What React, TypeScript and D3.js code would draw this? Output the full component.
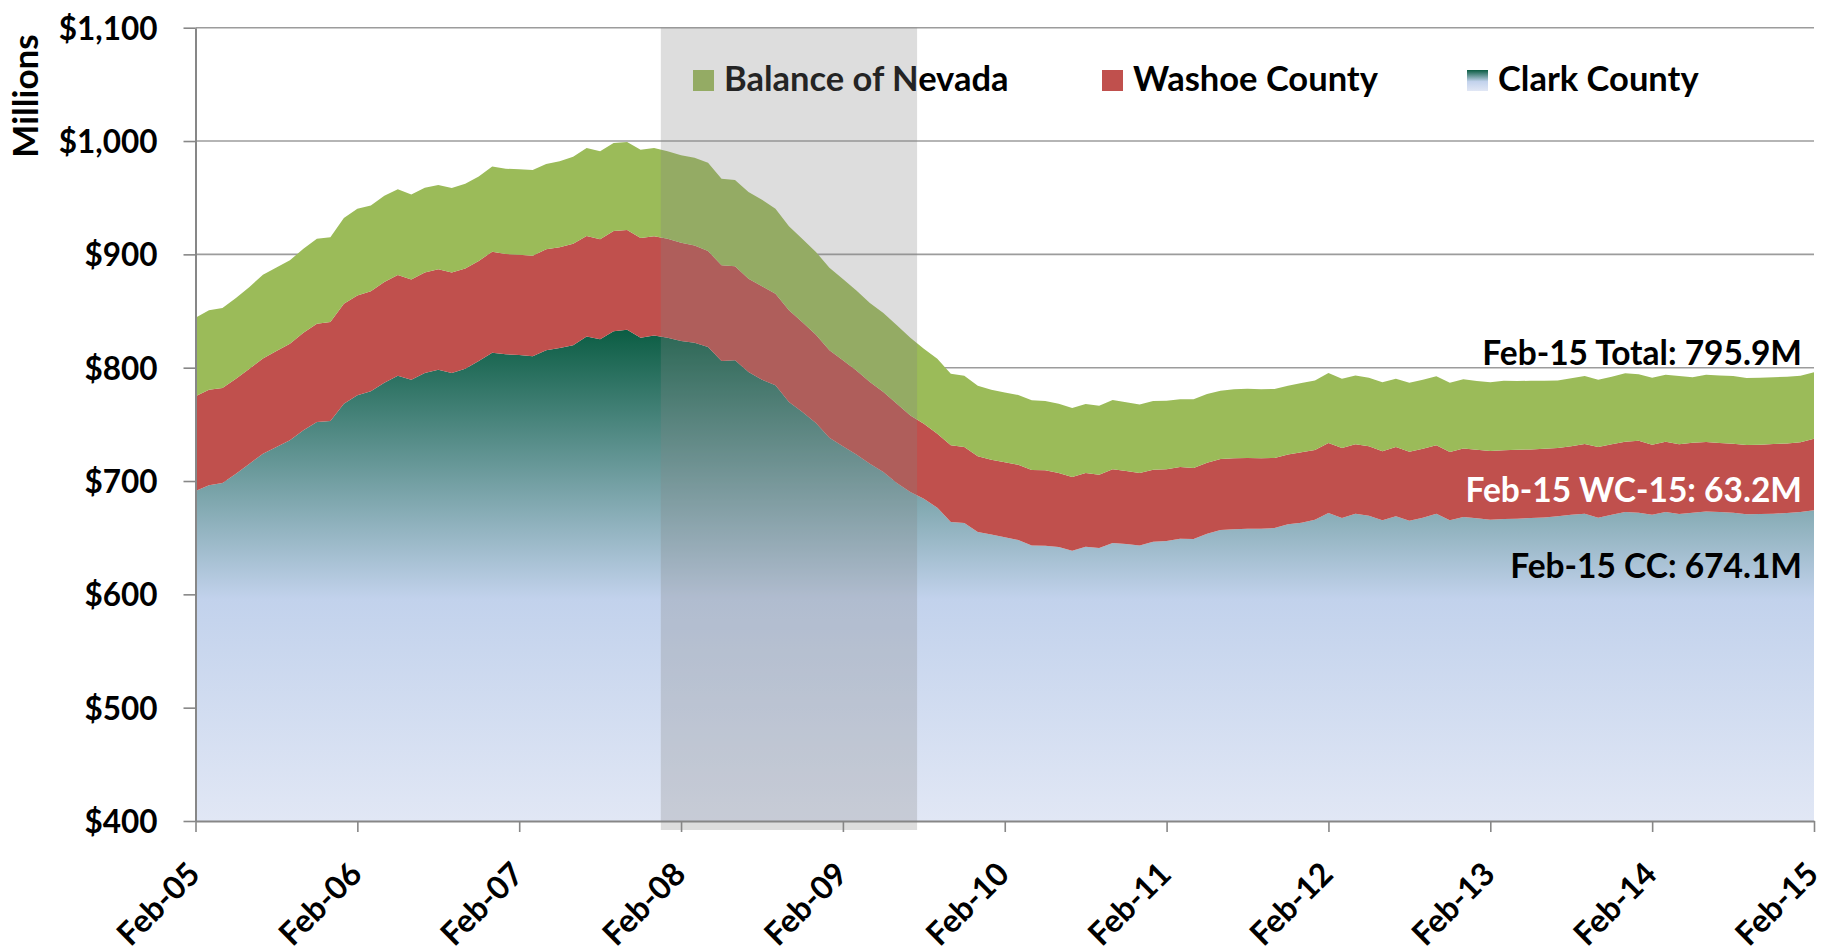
import React, { useRef, useEffect } from 'react';
import * as d3 from 'd3';

// Monthly values, Feb-05 .. Feb-15, $ millions
const clarkCounty = [
  691.2, 696.2, 698.2, 706.5, 715.3, 724.1, 730.0, 735.9, 744.7, 752.1,
  752.9, 768.2, 775.6, 779.1, 786.8, 792.9, 789.4, 795.3, 798.2, 795.3,
  799.1, 805.9, 813.2, 811.8, 811.2, 810.0, 815.3, 817.4, 819.7, 827.6,
  825.0, 832.1, 833.5, 826.5, 828.5, 826.5, 823.5, 822.1, 818.2, 805.9,
  806.5, 796.2, 789.4, 784.4, 769.7, 760.9, 751.2, 738.2, 730.6, 723.5,
  715.3, 707.9, 698.2, 690.3, 684.4, 676.5, 663.8, 662.9, 655.0, 652.9,
  650.3, 647.9, 643.2, 642.9, 641.8, 638.5, 642.1, 640.9, 645.3, 644.4,
  643.2, 646.5, 647.1, 649.1, 648.8, 653.5, 656.8, 657.4, 657.9, 657.9,
  658.5, 661.8, 663.2, 665.9, 671.8, 667.4, 671.2, 669.4, 665.3, 668.8,
  665.0, 667.6, 671.2, 665.3, 668.2, 667.1, 665.9, 666.5, 666.8, 667.4,
  667.9, 668.8, 670.3, 671.2, 667.6, 670.3, 672.6, 672.1, 670.3, 672.6,
  670.9, 672.1, 673.2, 672.6, 672.1, 670.6, 670.9, 671.2, 671.8, 672.6,
  674.1
];

const washoeCounty = [
  83.5, 84.4, 83.9, 83.8, 83.8, 83.9, 84.7, 85.3, 86.2, 86.7,
  87.4, 88.3, 88.2, 88.3, 88.8, 88.9, 88.5, 88.8, 88.6, 88.8,
  88.5, 88.2, 89.2, 88.5, 88.5, 88.8, 89.1, 88.8, 89.7, 88.6,
  88.3, 88.5, 88.0, 87.9, 87.4, 87.3, 86.8, 85.8, 84.7, 84.4,
  82.9, 82.3, 82.4, 80.9, 80.9, 79.1, 77.9, 77.1, 75.9, 74.1,
  72.1, 70.6, 70.0, 67.6, 66.2, 65.3, 67.7, 67.1, 66.8, 65.9,
  66.2, 66.5, 66.5, 66.5, 65.3, 65.0, 65.0, 64.7, 65.0, 64.4,
  63.9, 63.5, 63.2, 63.3, 62.7, 62.7, 62.6, 62.6, 62.4, 62.1,
  61.8, 61.7, 62.1, 61.5, 61.7, 61.7, 61.2, 61.2, 60.9, 61.2,
  60.9, 60.9, 60.3, 60.3, 60.6, 60.5, 60.6, 60.6, 60.8, 60.5,
  60.6, 60.3, 60.3, 61.4, 62.4, 62.1, 62.1, 63.5, 61.8, 62.1,
  61.5, 61.7, 61.2, 60.9, 60.8, 61.2, 61.2, 61.4, 61.4, 61.5,
  63.2
];

const balanceOfNevada = [
  69.4, 70.0, 70.5, 71.2, 72.1, 74.1, 73.8, 73.5, 74.1, 75.0,
  74.7, 75.6, 76.5, 75.8, 76.2, 75.6, 75.0, 74.7, 74.4, 74.4,
  74.8, 74.7, 75.2, 75.3, 75.3, 75.6, 75.3, 75.9, 76.8, 77.6,
  77.6, 77.6, 77.6, 78.0, 77.9, 77.1, 77.1, 77.4, 78.0, 76.5,
  76.2, 76.5, 76.4, 75.0, 74.1, 73.5, 73.0, 72.9, 71.7, 70.6,
  69.7, 69.7, 69.2, 68.6, 66.2, 66.1, 63.2, 62.9, 62.3, 61.8,
  61.7, 61.5, 61.5, 61.2, 61.1, 60.9, 60.8, 60.9, 61.2, 60.6,
  60.5, 60.6, 60.6, 59.7, 60.6, 60.6, 60.3, 60.9, 61.2, 60.9,
  60.9, 60.6, 61.2, 61.4, 61.8, 61.2, 60.8, 60.6, 60.9, 60.3,
  60.7, 60.9, 60.9, 61.2, 60.9, 60.6, 60.6, 61.4, 60.6, 60.6,
  60.0, 59.7, 60.0, 60.0, 59.4, 59.7, 60.3, 58.5, 59.1, 59.1,
  60.2, 57.7, 59.4, 59.7, 59.7, 59.1, 59.1, 58.9, 58.9, 58.8,
  58.6
];

const yearLabels = ['Feb-05', 'Feb-06', 'Feb-07', 'Feb-08', 'Feb-09', 'Feb-10',
  'Feb-11', 'Feb-12', 'Feb-13', 'Feb-14', 'Feb-15'];
const yTicks = [400, 500, 600, 700, 800, 900, 1000, 1100];
const legendNames = ['Balance of Nevada', 'Washoe County', 'Clark County'];
const endLabels = ['Feb-15 Total: 795.9M', 'Feb-15 WC-15: 63.2M', 'Feb-15 CC: 674.1M'];
// recession shading, in months after Feb-05
const recession = [34.5, 53.5];

const FONT = 'Lato, "Open Sans", sans-serif';

export default function App() {
  const svgRef = useRef<SVGSVGElement>(null);

  useEffect(() => {
    const svg = d3.select(svgRef.current);
    svg.selectAll('*').remove();

    const left = 195.5, right = 1814, top = 27.7, bottom = 821;

    const x = d3.scaleLinear().domain([0, clarkCounty.length - 1]).range([left, right]);
    const y = d3.scaleLinear().domain([400, 1100]).range([bottom, top]);

    const rows = clarkCounty.map((c, i) => ({
      i, clark: c, washoe: washoeCounty[i], balance: balanceOfNevada[i]
    }));
    const layers = d3.stack<any>().keys(['clark', 'washoe', 'balance'])(rows);

    const defs = svg.append('defs');
    const grad = defs.append('linearGradient')
      .attr('id', 'clarkGrad')
      .attr('gradientUnits', 'userSpaceOnUse')
      .attr('x1', 0).attr('x2', 0)
      .attr('y1', y(835)).attr('y2', y(400));
    grad.append('stop').attr('offset', '0%').attr('stop-color', '#0a5c42');
    grad.append('stop').attr('offset', '55%').attr('stop-color', '#c2d2ec');
    grad.append('stop').attr('offset', '100%').attr('stop-color', '#e1e7f5');

    const legGrad = defs.append('linearGradient')
      .attr('id', 'legGrad').attr('x1', 0).attr('x2', 0).attr('y1', 0).attr('y2', 1);
    legGrad.append('stop').attr('offset', '0%').attr('stop-color', '#0a5c42');
    legGrad.append('stop').attr('offset', '55%').attr('stop-color', '#c2d2ec');
    legGrad.append('stop').attr('offset', '100%').attr('stop-color', '#e1e7f5');

    // gridlines
    svg.append('g')
      .selectAll('line')
      .data(yTicks)
      .enter()
      .append('line')
      .attr('x1', left).attr('x2', right)
      .attr('y1', d => y(d)).attr('y2', d => y(d))
      .attr('stroke', '#9c9c9c')
      .attr('stroke-width', 1.6);

    // stacked areas
    const colors = ['url(#clarkGrad)', '#c0504d', '#9bbb59'];
    const area = d3.area<any>()
      .x(d => x(d.data.i))
      .y0(d => y(Math.max(400, d[0])))
      .y1(d => y(d[1]));

    svg.append('g')
      .selectAll('path')
      .data(layers)
      .enter()
      .append('path')
      .attr('d', area as any)
      .attr('fill', (d, i) => colors[i]);

    // y axis
    const yAxis = svg.append('g')
      .attr('transform', `translate(${left},0)`)
      .call(d3.axisLeft(y).tickValues(yTicks).tickSize(12).tickSizeOuter(0)
        .tickPadding(26).tickFormat(d => d3.format('$,')(d as number)));
    yAxis.select('.domain').attr('stroke', '#878787').attr('stroke-width', 2);
    yAxis.selectAll('.tick line').attr('stroke', '#878787').attr('stroke-width', 1.6);
    yAxis.selectAll('.tick text')
      .attr('dy', '0.36em')
      .style('font-family', FONT)
      .style('font-weight', 700)
      .style('font-size', '31.5px')
      .attr('fill', '#000');

    // x axis
    const xAxis = svg.append('g')
      .attr('transform', `translate(0,${bottom})`)
      .call(d3.axisBottom(x).tickValues(d3.range(0, clarkCounty.length, 12))
        .tickSize(11).tickSizeOuter(0)
        .tickFormat((d, i) => yearLabels[i]));
    xAxis.select('.domain').attr('stroke', '#878787').attr('stroke-width', 2);
    xAxis.selectAll('.tick line').attr('stroke', '#878787').attr('stroke-width', 1.6);
    xAxis.selectAll('.tick text')
      .attr('x', 0).attr('y', 0).attr('dy', 0)
      .attr('transform', 'translate(6,55) rotate(-45)')
      .style('text-anchor', 'end')
      .style('font-family', FONT)
      .style('font-weight', 700)
      .style('font-size', '32px')
      .attr('fill', '#000');

    // axis title
    svg.append('text')
      .attr('transform', 'translate(38,96) rotate(-90)')
      .attr('text-anchor', 'middle')
      .style('font-family', FONT)
      .style('font-weight', 700)
      .style('font-size', '35px')
      .text('Millions');

    // legend
    const legendX = [693, 1102, 1467];
    const legendFill = ['#9bbb59', '#c0504d', 'url(#legGrad)'];
    const legend = svg.append('g');
    legendNames.forEach((name, i) => {
      legend.append('rect')
        .attr('x', legendX[i]).attr('y', 70)
        .attr('width', 21).attr('height', 21)
        .attr('fill', legendFill[i]);
      legend.append('text')
        .attr('x', legendX[i] + 31).attr('y', 91)
        .style('font-family', FONT)
        .style('font-weight', 700)
        .style('font-size', '34.5px')
        .text(name);
    });

    // end-of-series labels
    const labelY = [365, 502, 578];
    const labelFill = ['#000', '#fff', '#000'];
    endLabels.forEach((t, i) => {
      svg.append('text')
        .attr('x', 1802).attr('y', labelY[i])
        .attr('text-anchor', 'end')
        .attr('fill', labelFill[i])
        .style('font-family', FONT)
        .style('font-weight', 700)
        .style('font-size', '33.5px')
        .text(t);
    });

    // recession band, drawn over everything
    svg.append('rect')
      .attr('x', x(recession[0]))
      .attr('y', top)
      .attr('width', x(recession[1]) - x(recession[0]))
      .attr('height', 830 - top)
      .attr('fill', '#838383')
      .attr('fill-opacity', 0.275);
  }, []);

  return (
    <svg
      ref={svgRef}
      width={1826}
      height={952}
      style={{ position: 'absolute', left: 0, top: 0, background: '#fff' }}
    />
  );
}
